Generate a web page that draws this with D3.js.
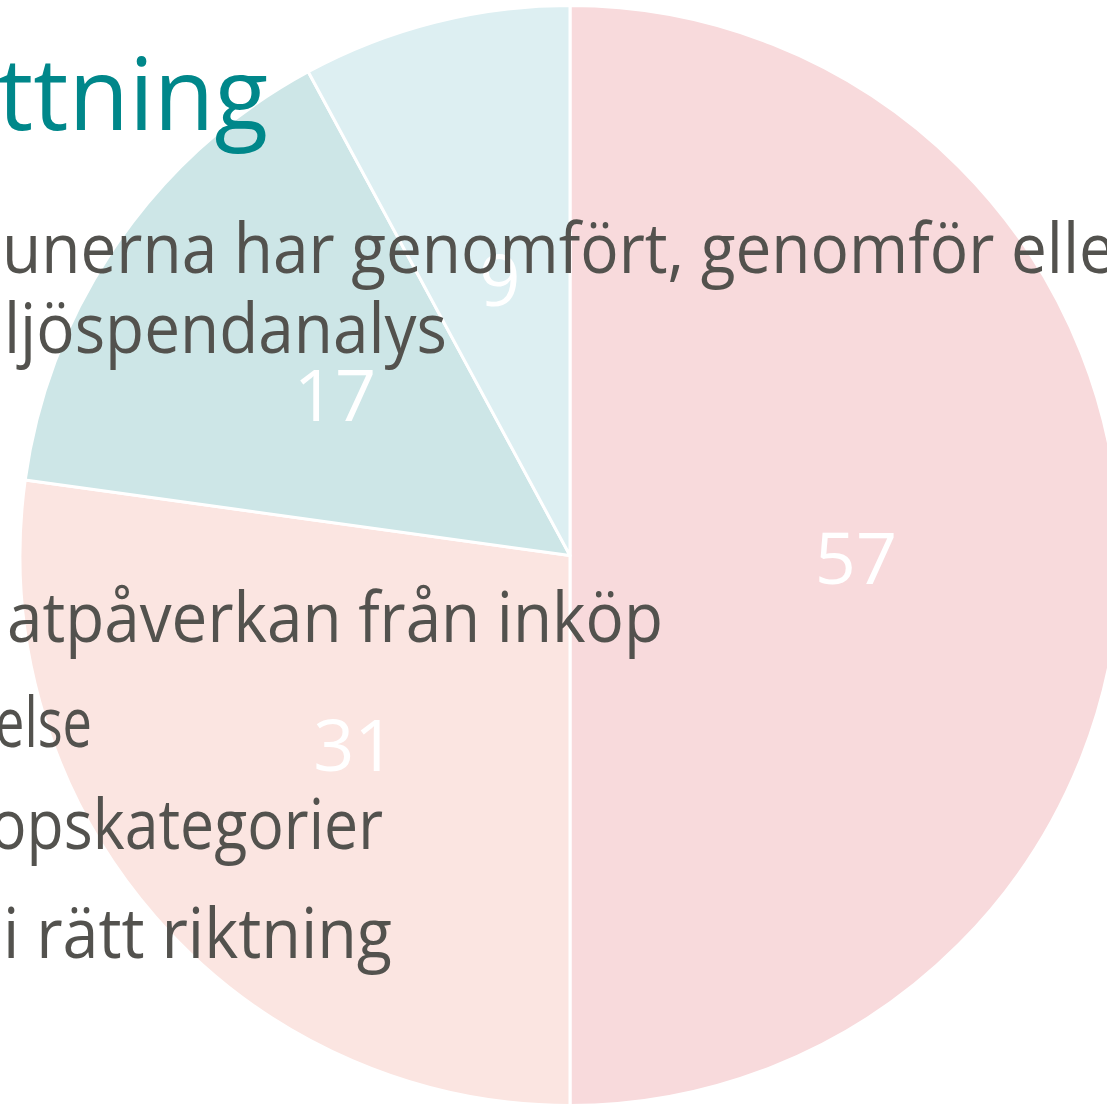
<!DOCTYPE html>
<html>
<head>
<meta charset="utf-8">
<script src="https://cdn.jsdelivr.net/npm/d3@7"></script>
<style>
  html, body { margin: 0; padding: 0; background: #ffffff; overflow: hidden; }
  svg { display: block; }
</style>
</head>
<body>
<svg id="chart" width="1107" height="1107"></svg>
<script>
// ---- data ----
const categories = ["Kategori 1", "Kategori 2", "Kategori 3", "Kategori 4"];
const values = [57, 31, 17, 9];
const sliceColors = ["#F8DADC", "#FBE5E1", "#CDE6E7", "#DDEFF2"];

const titleText = "ttning";
const bodyLines = [
  "unerna har genomfört, genomför elle",
  "ljöspendanalys",
  "atpåverkan från inköp",
  "else",
  "opskategorier",
  "i rätt riktning"
];

// ---- layout ----
const W = 1107, H = 1107;
const cx = 570, cy = 555.5, R = 550;
const svg = d3.select("#chart");

const pie = d3.pie().sort(null).value(d => d.value).startAngle(0).endAngle(2 * Math.PI);
const arcs = pie(values.map((v, i) => ({ cat: categories[i], value: v })));
const arc = d3.arc().innerRadius(0).outerRadius(R);
const labelArc = d3.arc().innerRadius(R * 0.52).outerRadius(R * 0.52);
const color = d3.scaleOrdinal().domain(categories).range(sliceColors);

const g = svg.append("g").attr("transform", `translate(${cx},${cy})`);
g.selectAll("path.slice")
  .data(arcs)
  .join("path")
  .attr("class", "slice")
  .attr("d", arc)
  .attr("fill", d => color(d.data.cat))
  .attr("stroke", "#ffffff")
  .attr("stroke-width", 3)
  .attr("stroke-linejoin", "round");

g.selectAll("text.lbl")
  .data(arcs)
  .join("text")
  .attr("class", "lbl")
  .attr("transform", d => `translate(${labelArc.centroid(d)})`)
  .attr("text-anchor", "middle")
  .attr("dominant-baseline", "central")
  .attr("font-family", "'Open Sans', sans-serif")
  .attr("font-size", 72)
  .attr("fill", "#ffffff")
  .text(d => d.data.value);

// ---- slide text overlay ----
const fontFam = "'Open Sans', 'Noto Sans', sans-serif";

svg.append("text")
  .attr("x", 268).attr("y", 130)
  .attr("text-anchor", "end")
  .attr("font-family", fontFam)
  .attr("font-size", 100)
  .attr("fill", "#00878A")
  .attr("textLength", 270)
  .attr("lengthAdjust", "spacingAndGlyphs")
  .text(titleText);

// placement for each body line: [anchor x, baseline y, visible length]
const linePlacement = [
  { x: 2, y: 273, len: 1113, anchor: "start" },
  { x: 447, y: 353, len: 443, anchor: "end" },
  { x: 663, y: 642, len: 656, anchor: "end" },
  { x: 92, y: 747, len: 97, anchor: "end" },
  { x: 383, y: 849, len: 393, anchor: "end" },
  { x: 392, y: 958, len: 389, anchor: "end" }
];

svg.selectAll("text.body")
  .data(bodyLines)
  .join("text")
  .attr("class", "body")
  .attr("x", (d, i) => linePlacement[i].x)
  .attr("y", (d, i) => linePlacement[i].y)
  .attr("text-anchor", (d, i) => linePlacement[i].anchor)
  .attr("textLength", (d, i) => linePlacement[i].len)
  .attr("lengthAdjust", "spacingAndGlyphs")
  .attr("font-family", fontFam)
  .attr("font-size", 70)
  .attr("fill", "#53524E")
  .text(d => d);
</script>
</body>
</html>
